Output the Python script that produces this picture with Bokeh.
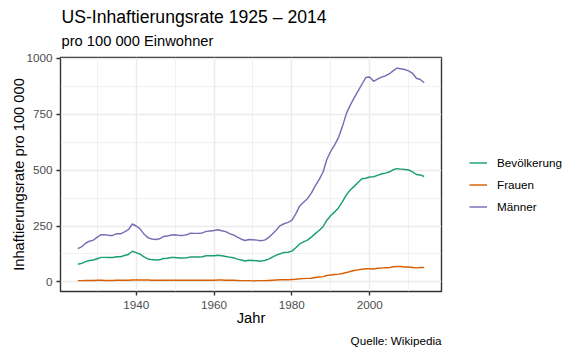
from bokeh.plotting import figure
from bokeh.models import FixedTicker, Legend, LegendItem, Title, Range1d
from bokeh.embed import file_html
from bokeh.resources import INLINE

years = list(range(1925, 2015))

bevoelkerung = [79, 83, 91, 96, 98,
                104, 110, 110, 109, 109, 113, 113, 118, 123, 137,
                131, 124, 112, 103, 100, 98, 99, 105, 106, 109,
                109, 107, 107, 108, 112, 112, 112, 113, 117, 117,
                117, 119, 117, 114, 111, 108, 102, 98, 94, 97,
                96, 95, 93, 96, 102, 111, 120, 126, 132, 133,
                138, 153, 170, 179, 187, 200, 216, 230, 247, 276,
                297, 313, 332, 359, 389, 411, 427, 444, 461, 463,
                469, 470, 476, 482, 486, 491, 501, 506, 504, 502,
                500, 492, 480, 478, 471]

frauen = [6, 6, 7, 7, 7,
          8, 8, 7, 7, 7, 8, 8, 8, 8, 9,
          9, 9, 9, 9, 8, 8, 8, 8, 8, 8,
          8, 8, 8, 8, 8, 8, 8, 8, 8, 8,
          8, 9, 9, 8, 8, 8, 7, 6, 6, 6,
          5, 6, 6, 6, 7, 8, 9, 10, 10, 10,
          11, 12, 14, 15, 16, 17, 20, 22, 24, 29,
          31, 33, 35, 38, 42, 47, 51, 54, 57, 59,
          59, 58, 61, 62, 64, 64, 68, 69, 69, 67,
          67, 65, 63, 65, 65]

maenner = [149, 157, 173, 182, 187,
           200, 211, 211, 208, 208, 216, 215, 224, 234, 259,
           250, 237, 214, 198, 192, 190, 193, 203, 205, 210,
           211, 208, 208, 211, 218, 217, 217, 219, 226, 228,
           230, 233, 229, 225, 216, 210, 200, 191, 185, 190,
           189, 187, 184, 187, 198, 214, 232, 252, 260, 266,
           275, 304, 339, 356, 372, 397, 429, 457, 490, 548,
           584, 612, 646, 695, 752, 790, 822, 852, 883, 913,
           915, 896, 906, 915, 920, 929, 943, 955, 952, 949,
           943, 932, 910, 904, 890]

series_names = ["Bevölkerung", "Frauen", "Männer"]
series_values = [bevoelkerung, frauen, maenner]
colors = ["#1B9E77", "#D95F02", "#7570B3"]

x_ticks = [1940, 1960, 1980, 2000]
x_minor = [1930, 1950, 1970, 1990, 2010]
y_ticks = [0, 250, 500, 750, 1000]
y_minor = [125, 375, 625, 875]

title_text = "US-Inhaftierungsrate 1925 \u2013 2014"
subtitle_text = "pro 100 000 Einwohner"
caption_text = "Quelle: Wikipedia"
x_label = "Jahr"
y_label = "Inhaftierungsrate pro 100 000"

FONT = "Liberation Sans"

# ggplot-style 5% expansion
xmin, xmax = min(years), max(years)
xr = xmax - xmin
allv = bevoelkerung + frauen + maenner
ymin, ymax = min(allv), max(allv)
yr = ymax - ymin

p = figure(frame_width=381, frame_height=234, output_backend="svg", toolbar_location=None,
           x_range=Range1d(xmin - 0.05 * xr, xmax + 0.05 * xr),
           y_range=Range1d(ymin - 0.05 * yr, ymax + 0.05 * yr),
           min_border_left=0, min_border_right=0,
           min_border_top=0, min_border_bottom=0)
p.background_fill_color = "white"
p.border_fill_color = "white"
p.outline_line_color = "#333333"
p.outline_line_width = 1.4

p.xaxis.ticker = FixedTicker(ticks=x_ticks, minor_ticks=x_minor)
p.yaxis.ticker = FixedTicker(ticks=y_ticks, minor_ticks=y_minor)

for ax in (p.xaxis, p.yaxis):
    ax.axis_line_color = None
    ax.major_tick_line_color = "#333333"
    ax.major_tick_line_width = 1.4
    ax.major_tick_out = 4
    ax.major_tick_in = 0
    ax.minor_tick_line_color = None
    ax.major_label_text_font = FONT
    ax.major_label_text_font_size = "11.7px"
    ax.major_label_text_color = "#4D4D4D"
    ax.axis_label_text_font = FONT
    ax.axis_label_text_font_size = "14.7px"
    ax.axis_label_text_font_style = "normal"
    ax.axis_label_text_color = "black"

p.xaxis.axis_label = x_label
p.yaxis.axis_label = y_label
p.xaxis.major_label_standoff = 5
p.yaxis.major_label_standoff = 4
p.xaxis.axis_label_standoff = -2
p.yaxis.axis_label_standoff = -4

for g in (p.xgrid, p.ygrid):
    g.grid_line_color = "#EBEBEB"
    g.grid_line_width = 1.4
    g.minor_grid_line_color = "#EBEBEB"
    g.minor_grid_line_width = 0.7

items = []
for name, vals, col in zip(series_names, series_values, colors):
    r = p.line(years, vals, line_color=col, line_width=1.45)
    items.append(LegendItem(label=name, renderers=[r]))

legend = Legend(items=items, location=(28, 76),
                glyph_width=18, glyph_height=17, label_height=17,
                spacing=5, label_standoff=10, padding=10, margin=15,
                border_line_color=None, background_fill_alpha=0,
                label_text_font=FONT, label_text_font_size="11.7px",
                label_text_color="black")
p.add_layout(legend, "right")

# spacing panels (blank) to reproduce the ggplot margins
p.add_layout(Title(text=" ", text_font_size="1px", standoff=5), "above")
p.add_layout(Title(text=" ", text_font_size="1px", standoff=5), "left")

p.add_layout(Title(text=subtitle_text, align="left", offset=1, standoff=1,
                   text_font=FONT, text_font_size="14.7px", text_font_style="normal",
                   text_color="black"), "above")
p.add_layout(Title(text=title_text, align="left", offset=1, standoff=8,
                   text_font=FONT, text_font_size="17.6px", text_font_style="normal",
                   text_color="black"), "above")
p.add_layout(Title(text=caption_text, align="right", offset=0, standoff=6,
                   text_font=FONT, text_font_size="11.7px", text_font_style="normal",
                   text_color="black"), "below")

open("out.html", "w").write(file_html(p, INLINE))
